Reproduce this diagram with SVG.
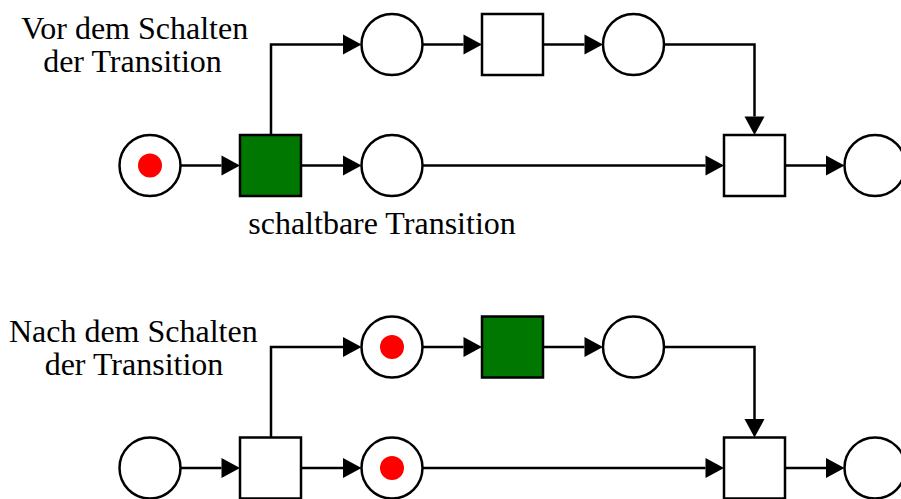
<svg xmlns="http://www.w3.org/2000/svg" width="901" height="499" viewBox="0 0 901 499">
  <style>
    .place { fill: #ffffff; stroke: #000000; stroke-width: 2.5; }
    .trans { fill: #ffffff; stroke: #000000; stroke-width: 2.5; }
    .active { fill: #007700; }
    .token { fill: #ff0000; stroke: none; }
    .arc { fill: none; stroke: #000000; stroke-width: 2.5; marker-end: url(#head); }
    .label { font-family: "Liberation Serif", "Times New Roman", serif; font-size: 32px; fill: #000000; text-anchor: middle; }
  </style>
  <defs>
    <marker id="head" markerUnits="userSpaceOnUse" markerWidth="19" markerHeight="20" refX="0" refY="10" orient="auto" overflow="visible">
      <path d="M0,0 L18.5,10 L0,20 Z" fill="#000000"/>
    </marker>
  </defs>
  <rect width="901" height="499" fill="#ffffff"/>

  <!-- Labels -->
  <text class="label" x="134.7" y="39">Vor dem Schalten</text>
  <text class="label" x="132.5" y="72">der Transition</text>
  <text class="label" x="382" y="234">schaltbare Transition</text>
  <text class="label" x="133.3" y="341.7">Nach dem Schalten</text>
  <text class="label" x="134" y="375">der Transition</text>

  <!-- Connectors: net before firing -->
  <g id="arcs-before">
    <path class="arc" d="M180.5,165.5 H221.5"/>
    <path class="arc" d="M271,135 V44.5 H343"/>
    <path class="arc" d="M301,165.5 H343"/>
    <path class="arc" d="M422.5,44.5 H463.5"/>
    <path class="arc" d="M543,44.5 H584.5"/>
    <path class="arc" d="M664,44.5 H754.5 V116.5"/>
    <path class="arc" d="M422.5,165.5 H705.5"/>
    <path class="arc" d="M785,165.5 H826"/>
  </g>

  <!-- Connectors: net after firing -->
  <g id="arcs-after">
    <path class="arc" d="M180.5,468 H221.5"/>
    <path class="arc" d="M271,437.5 V347 H343"/>
    <path class="arc" d="M301,468 H343"/>
    <path class="arc" d="M422.5,347 H463.5"/>
    <path class="arc" d="M543,347 H584.5"/>
    <path class="arc" d="M664,347 H754.5 V419"/>
    <path class="arc" d="M422.5,468 H705.5"/>
    <path class="arc" d="M785,468 H826"/>
  </g>

  <!-- Net before firing -->
  <g id="p0-before"><circle class="place" cx="150" cy="165.5" r="30.5"/><circle class="token" cx="150" cy="165.5" r="12"/></g>
  <g id="t0-before"><rect class="trans active" x="240" y="135" width="61" height="61"/></g>
  <g id="p1-before"><circle class="place" cx="392" cy="44.5" r="30.5"/></g>
  <g id="t1-before"><rect class="trans" x="482" y="14" width="61" height="61"/></g>
  <g id="p2-before"><circle class="place" cx="633.5" cy="44.5" r="30.5"/></g>
  <g id="p3-before"><circle class="place" cx="392" cy="165.5" r="30.5"/></g>
  <g id="t2-before"><rect class="trans" x="724" y="135" width="61" height="61"/></g>
  <g id="p4-before"><circle class="place" cx="875" cy="165.5" r="30.5"/></g>

  <!-- Net after firing -->
  <g id="p0-after"><circle class="place" cx="150" cy="468" r="30.5"/></g>
  <g id="t0-after"><rect class="trans" x="240" y="437.5" width="61" height="61"/></g>
  <g id="p1-after"><circle class="place" cx="392" cy="347" r="30.5"/><circle class="token" cx="392" cy="347" r="12"/></g>
  <g id="t1-after"><rect class="trans active" x="482" y="316.5" width="61" height="61"/></g>
  <g id="p2-after"><circle class="place" cx="633.5" cy="347" r="30.5"/></g>
  <g id="p3-after"><circle class="place" cx="392" cy="468" r="30.5"/><circle class="token" cx="392" cy="468" r="12"/></g>
  <g id="t2-after"><rect class="trans" x="724" y="437.5" width="61" height="61"/></g>
  <g id="p4-after"><circle class="place" cx="875" cy="468" r="30.5"/></g>
</svg>
